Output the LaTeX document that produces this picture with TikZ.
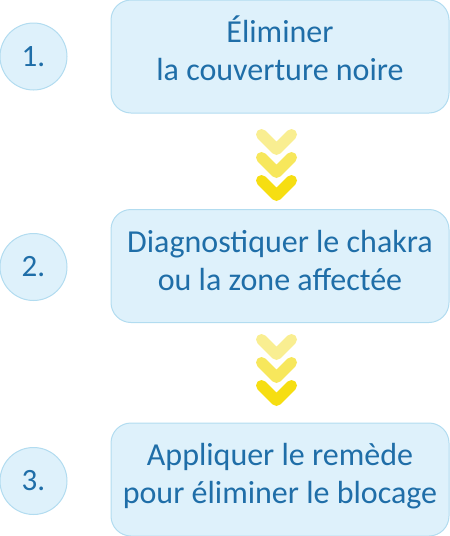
\documentclass[tikz,border=0pt]{standalone}
\usepackage{fontspec}
\setmainfont{Carlito}
\definecolor{box_fill}{RGB}{222,241,251}
\definecolor{box_line}{RGB}{178,220,240}
\definecolor{text_blue}{RGB}{31,110,168}
\definecolor{chev_light}{RGB}{249,238,145}
\definecolor{chev_mid}{RGB}{247,231,92}
\definecolor{chev_dark}{RGB}{246,222,18}

\begin{document}
\begin{tikzpicture}[x=1pt,y=-1pt,
	stepbox/.style={rectangle,rounded corners=20pt,draw=box_line,fill=box_fill,line width=1pt,minimum width=338pt,minimum height=113pt,align=center,text height=59pt,text depth=11pt,text=text_blue,font=\fontsize{32}{38}\selectfont},
	numdisc/.style={circle,draw=box_line,fill=box_fill,line width=1pt,minimum size=67pt,inner sep=0pt,text=text_blue,font=\fontsize{31}{36}\selectfont},
	chevron/.style={line width=11pt,line cap=round,line join=round}]
	\useasboundingbox (0,0) rectangle (450,536);

	\node[numdisc] (n1) at (33.5,56.5) {1.};
	\node[numdisc] (n2) at (33.5,267) {2.};
	\node[numdisc] (n3) at (33.5,481) {3.};

	\node[stepbox] (s1) at (280,56.5) {Éliminer\\la couverture noire};
	\node[stepbox] (s2) at (280,266) {Diagnostiquer le chakra\\ou la zone affectée};
	\node[stepbox] (s3) at (280,479.5) {Appliquer le remède\\pour éliminer le blocage};

	\foreach \y in {129,334}
		\foreach \k/\c in {0/chev_light,1/chev_mid,2/chev_dark}
			\draw[chevron,draw=\c] (261.5,{\y+5.5+23*\k}) -- (276.5,{\y+20.5+23*\k}) -- (291.5,{\y+5.5+23*\k});
\end{tikzpicture}
\end{document}
